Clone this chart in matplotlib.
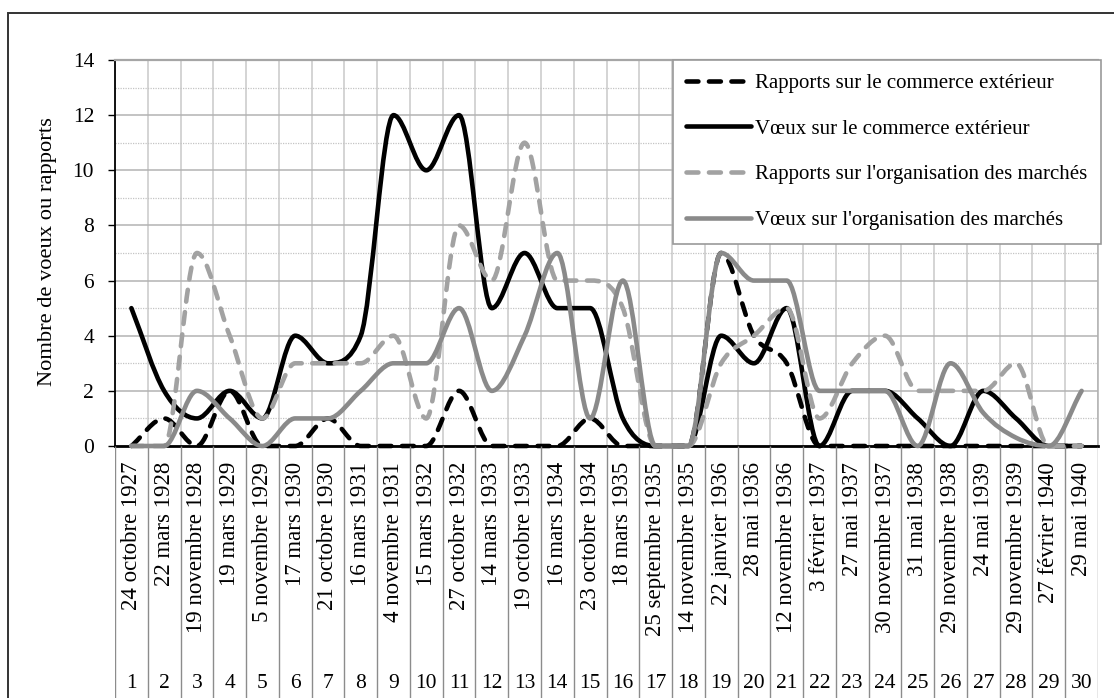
import numpy as np
import matplotlib
matplotlib.use('Agg')
import matplotlib.pyplot as plt
from matplotlib.path import Path
from matplotlib.patches import PathPatch, Rectangle
from matplotlib.lines import Line2D

plt.rcParams['font.family'] = ['Liberation Serif', 'DejaVu Serif']

# ---------------- data ----------------
sessions = list(range(1, 31))
dates = ["24 octobre 1927", "22 mars 1928", "19 novembre 1928", "19 mars 1929",
         "5 novembre 1929", "17 mars 1930", "21 octobre 1930", "16 mars 1931",
         "4 novembre 1931", "15 mars 1932", "27 octobre 1932", "14 mars 1933",
         "19 octobre 1933", "16 mars 1934", "23 octobre 1934", "18 mars 1935",
         "25 septembre 1935", "14 novembre 1935", "22 janvier 1936", "28 mai 1936",
         "12 novembre 1936", "3 février 1937", "27 mai 1937", "30 novembre 1937",
         "31 mai 1938", "29 novembre 1938", "24 mai 1939", "29 novembre 1939",
         "27 février 1940", "29 mai 1940"]
rapports_commerce = [0, 1, 0, 2, 0, 0, 1, 0, 0, 0, 2, 0, 0, 0, 1, 0, 0, 0, 7, 4, 3, 0, 0, 0, 0, 0, 0, 0, 0, 0]
voeux_commerce = [5, 2, 1, 2, 1, 4, 3, 4, 12, 10, 12, 5, 7, 5, 5, 1, 0, 0, 4, 3, 5, 0, 2, 2, 1, 0, 2, 1, 0, 0]
rapports_marches = [0, 0, 7, 4, 1, 3, 3, 3, 4, 1, 8, 6, 11, 6, 6, 5, 0, 0, 3, 4, 5, 1, 3, 4, 2, 2, 2, 3, 0, 0]
voeux_marches = [0, 0, 2, 1, 0, 1, 1, 2, 3, 3, 5, 2, 4, 7, 1, 6, 0, 0, 7, 6, 6, 2, 2, 2, 0, 3, 1.2, 0.3, 0, 2]
labels = ["Rapports sur le commerce extérieur", "Vœux sur le commerce extérieur",
          "Rapports sur l'organisation des marchés", "Vœux sur l'organisation des marchés"]
y_ticks = [0, 2, 4, 6, 8, 10, 12, 14]

# ---------------- layout ----------------
W, H = 1114, 698
fig = plt.figure(figsize=(W / 100, H / 100), dpi=100)
fig.patch.set_facecolor('white')
L, R, T, B = 115, 1098, 60, 446


def fx(px):
    return px / W


def fy(py):
    return 1 - py / H


# outer frame (runs off the right and bottom edges)
fig.add_artist(Rectangle((fx(8), -0.05), 1.1, fy(12.5) + 0.05, transform=fig.transFigure,
                         fill=False, ec='#333333', lw=1.4))

ax = fig.add_axes([fx(L), fy(B), (R - L) / W, (B - T) / H])
ax.set_xlim(0.5, 30.5)
ax.set_ylim(0, 14)

bounds = np.arange(0.5, 31, 1.0)
ax.set_xticks(bounds)
ax.tick_params(axis='x', length=0, labelbottom=False)
ax.xaxis.grid(True, color='#c9c9c9', lw=1.1)
ax.set_yticks(y_ticks)
ax.set_yticks(np.arange(1, 14, 2), minor=True)
ax.yaxis.grid(True, which='major', color='#b3b3b3', lw=1.1)
ax.yaxis.grid(True, which='minor', color='#c4c4c4', lw=0.9, linestyle=(0, (1, 1)))
ax.tick_params(axis='y', which='major', length=5, width=1, pad=10, labelsize=15.5, color='black')
ax.tick_params(axis='y', which='minor', length=0)
ax.set_axisbelow(True)
ax.spines['top'].set_color('#a6a6a6')
ax.spines['top'].set_linewidth(1.6)
ax.spines['right'].set_color('#b0b0b0')
ax.spines['right'].set_linewidth(1.1)
ax.spines['left'].set_linewidth(1.3)
ax.spines['bottom'].set_linewidth(2.0)
for s in ax.spines.values():
    s.set_zorder(1.8)

ax.set_ylabel('Nombre de voeux ou rapports', fontsize=16.2, va='center')
ax.yaxis.set_label_coords((48 - L) / (R - L), 0.505)


# ---------------- smoothed lines ----------------
def smooth_path(xs, ys):
    xs = np.asarray(xs, float)
    ys = np.asarray(ys, float)
    n = len(xs)
    hx = np.zeros(n)
    hy = np.zeros(n)
    for i in range(n):
        if i == 0:
            hx[i] = (xs[1] - xs[0]) / 3
            hy[i] = (ys[1] - ys[0]) / 3
        elif i == n - 1:
            hx[i] = (xs[-1] - xs[-2]) / 3
            hy[i] = (ys[-1] - ys[-2]) / 3
        else:
            hx[i] = (xs[i + 1] - xs[i - 1]) / 6
            d0 = ys[i] - ys[i - 1]
            d1 = ys[i + 1] - ys[i]
            if d0 * d1 <= 0:
                hy[i] = 0.0
            else:
                h = (ys[i + 1] - ys[i - 1]) / 6
                lim = min(abs(d0), abs(d1))
                hy[i] = np.sign(h) * min(abs(h), lim)
    verts = [(xs[0], ys[0])]
    codes = [Path.MOVETO]
    for i in range(n - 1):
        verts += [(xs[i] + hx[i], ys[i] + hy[i]),
                  (xs[i + 1] - hx[i + 1], ys[i + 1] - hy[i + 1]),
                  (xs[i + 1], ys[i + 1])]
        codes += [Path.CURVE4] * 3
    return Path(verts, codes)


LW = 3.3
DASH = (0, (2.6, 2.3))
styles = [
    dict(color='black', ls=DASH),
    dict(color='black', ls='solid'),
    dict(color='#a2a2a2', ls=DASH),
    dict(color='#8a8a8a', ls='solid'),
]
series = [rapports_commerce, voeux_commerce, rapports_marches, voeux_marches]
handles = []
for k, (vals, st) in enumerate(zip(series, styles)):
    p = PathPatch(smooth_path(sessions, vals), fill=False, ec=st['color'], lw=LW,
                  linestyle=st['ls'], capstyle='round', joinstyle='round',
                  zorder=3 + k, clip_on=False)
    ax.add_patch(p)
    handles.append(Line2D([], [], color=st['color'], lw=LW, linestyle=st['ls'],
                          dash_capstyle='round', solid_capstyle='round'))

leg = ax.legend(handles, labels, loc='upper right', bbox_to_anchor=(fx(1101), fy(60)),
                bbox_transform=fig.transFigure, fontsize=15, frameon=True, fancybox=False,
                edgecolor='#9a9a9a', framealpha=1, borderaxespad=0, borderpad=0.65,
                handlelength=3.1, handletextpad=0.2, labelspacing=1.25)
leg.get_frame().set_linewidth(1.2)
leg.set_zorder(10)

# ---------------- table below the axis ----------------
axt = fig.add_axes([fx(L), 0, (R - L) / W, fy(B)])
axt.set_xlim(0.5, 30.5)
axt.set_ylim(0, 1)
axt.axis('off')
axt.vlines(bounds, 0, 1, colors='#8c8c8c', lw=1.0)
y_date = (H - 462) / (H - B)
y_num = (H - 683) / (H - B)
for x, d in zip(sessions, dates):
    axt.text(x, y_date, d, rotation=90, ha='center', va='top', fontsize=16.5)
for x in sessions:
    axt.text(x, y_num, str(x), ha='center', va='center', fontsize=15.5)

fig.savefig('out.png', dpi=100)
